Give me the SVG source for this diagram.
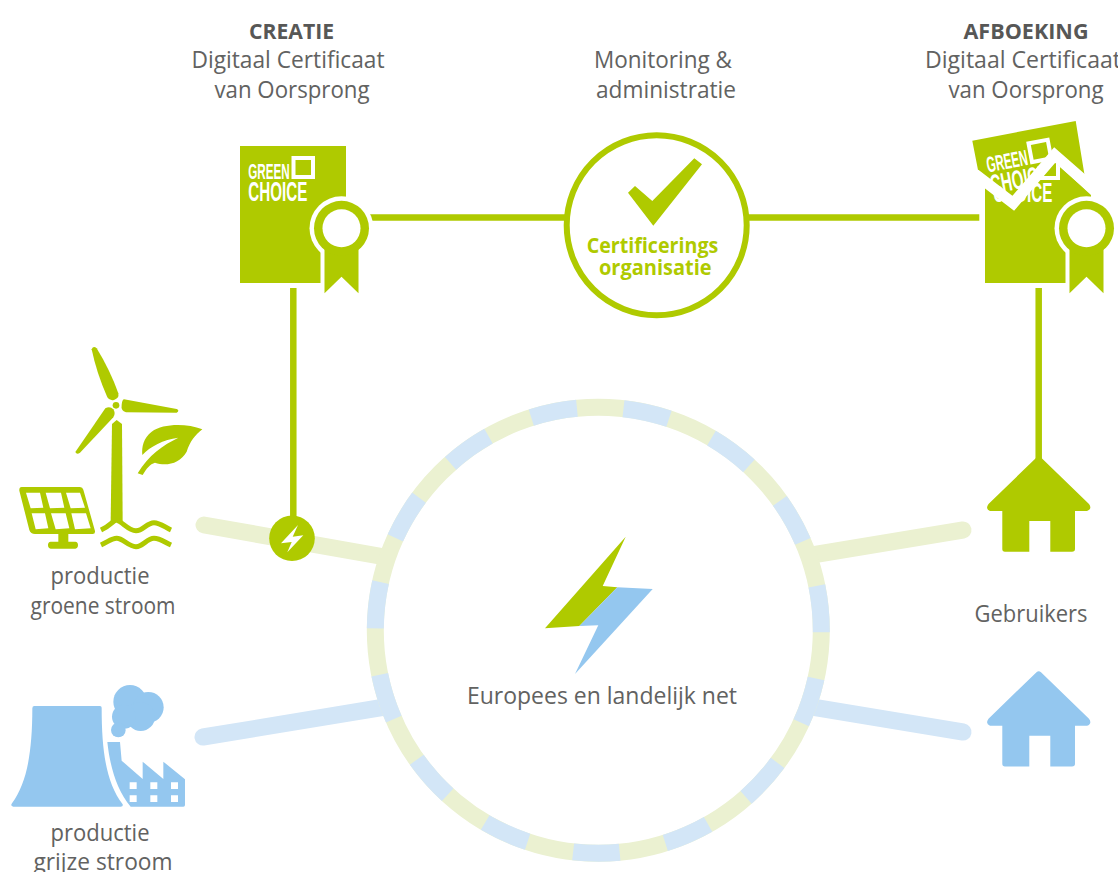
<svg xmlns="http://www.w3.org/2000/svg" width="1118" height="872" viewBox="0 0 1118 872">
<style>
.t{font-family:"Open Sans","Noto Sans","Liberation Sans",sans-serif;font-weight:400;font-size:24px;fill:#626261;text-anchor:middle}
.b{font-weight:700;font-size:21.500px;fill:#575756}
.c{font-family:"Open Sans","Noto Sans","Liberation Sans",sans-serif;font-weight:700;font-size:21px;fill:#afca00;text-anchor:middle}
.lg{font-family:"Liberation Sans Narrow","Liberation Sans",sans-serif;font-weight:700;fill:#fff}
.g{fill:#afca00}.bl{fill:#94c7ef}.w{fill:#fff}
.lgn{fill:none;stroke:#ebf1d1;stroke-width:17;stroke-linecap:round}
.lbl{fill:none;stroke:#d3e6f7;stroke-width:17;stroke-linecap:round}
.ln{fill:none;stroke:#afca00;stroke-width:6.5}
</style>
<defs>
<g id="logo">
<rect x="293.500" y="158" width="19.500" height="19" fill="none" stroke="#fff" stroke-width="4"/>
<text class="lg" x="248.300" y="179" font-size="22" textLength="41.500" lengthAdjust="spacingAndGlyphs">GREEN</text>
<text class="lg" x="248.300" y="201" font-size="27" textLength="59" lengthAdjust="spacingAndGlyphs">CHOICE</text>
</g>
<g id="rosette">
<circle cx="0" cy="0" r="32" class="w"/>
<rect x="-21" y="0" width="42" height="68" class="w"/>
<path class="g" d="M-17 0H17V65L0 48.400L-17 65Z"/>
<circle cx="0" cy="0" r="27.500" class="g"/>
<circle cx="0" cy="0" r="19" class="w"/>
</g>
<path id="house" d="M1036.500 457.500Q1038.700 455.500 1041 457.500L1089 504Q1092.500 509 1087 511H1075V549Q1075 551.700 1072 551.700H1050.300V521H1029.300V551.700H1005Q1002.300 551.700 1002.300 549V511H990Q985 509 988.500 504Z"/>
<clipPath id="lower"><path d="M985 186L1014 210L1054 161L1091 195V283H985Z"/></clipPath>
</defs>

<g id="connectors">
<path class="lgn" d="M204 525L385 557"/>
<path class="lgn" d="M963 530L812 555"/>
<path class="lbl" d="M203 737L385 707"/>
<path class="lbl" d="M963 732L812 707"/>
<path class="ln" d="M293.300 288V540"/>
<path class="ln" d="M340 217.500H570"/>
<path class="ln" d="M745 217.500H979.300"/>
<path class="ln" d="M1038.700 288V462"/>
</g>

<g id="net">
<circle cx="598.300" cy="630.300" r="223" fill="none" stroke="#ebf1d1" stroke-width="17"/>
<circle cx="598.300" cy="630.300" r="223" fill="none" stroke="#d3e6f7" stroke-width="17" pathLength="360" stroke-dasharray="12 12" stroke-dashoffset="-12.500"/>
<path class="g" d="M625.700 536.700L602.700 586L617.300 587.300L579.300 626L545 628.300Z"/>
<path class="bl" d="M617.300 587.300L652.700 589L575 674L598.300 625.300L579.300 626Z"/>
<text class="t" x="602" y="704" textLength="270" lengthAdjust="spacingAndGlyphs">Europees en landelijk net</text>
</g>

<g id="creatie">
<text class="t b" x="291.500" y="38.500" textLength="85" lengthAdjust="spacingAndGlyphs">CREATIE</text>
<text class="t" x="288" y="67.500" textLength="193" lengthAdjust="spacingAndGlyphs">Digitaal Certificaat</text>
<text class="t" x="292" y="97.500" textLength="155" lengthAdjust="spacingAndGlyphs">van Oorsprong</text>
<rect class="g" x="240" y="146" width="106" height="137"/>
<use href="#logo"/>
<use href="#rosette" transform="translate(341.500 228.300)"/>
</g>

<g id="monitoring">
<text class="t" x="663" y="67.500" textLength="138" lengthAdjust="spacingAndGlyphs">Monitoring &amp;</text>
<text class="t" x="666" y="97.500" textLength="140" lengthAdjust="spacingAndGlyphs">administratie</text>
<circle cx="656.700" cy="225.300" r="90" class="w" stroke="#afca00" stroke-width="6"/>
<path class="g" d="M628 192.700L635 186L652.300 201L694.300 158.300L702 164.300L653.300 225.700Z"/>
<text class="c" x="652.500" y="253.300" textLength="131.600" lengthAdjust="spacingAndGlyphs">Certificerings</text>
<text class="c" x="655.300" y="275" textLength="112.700" lengthAdjust="spacingAndGlyphs">organisatie</text>
</g>

<g id="afboeking">
<text class="t b" x="1026" y="38.500" textLength="125" lengthAdjust="spacingAndGlyphs">AFBOEKING</text>
<text class="t" x="1023" y="67.500" textLength="196" lengthAdjust="spacingAndGlyphs">Digitaal Certificaat</text>
<text class="t" x="1026" y="97.500" textLength="155" lengthAdjust="spacingAndGlyphs">van Oorsprong</text>
<path class="g" d="M972.300 140.700L1075.700 121L1085 178L1054 150L1014 200L978 170Z"/>
<g transform="rotate(-10.700 1015 150) translate(736 -12)"><use href="#logo"/></g>
<path class="g" d="M985 186L1014 210L1054 161L1091 195V283H985Z"/>
<g clip-path="url(#lower)"><use href="#logo" transform="translate(745 1)"/></g>
<path d="M975 174L1013.300 203.300L1054.700 155L1098 193" fill="none" stroke="#fff" stroke-width="11"/>
<use href="#rosette" transform="translate(1086.500 228.300)"/>
</g>

<g id="groen">
<g transform="translate(0 340) scale(.33333)">
<path class="g" d="M275 28Q280 15 290 25Q330 90 355 160Q358 175 342 180Q328 183 322 172Q290 100 275 28Z"/>
<path class="g" d="M372 178L530 207Q540 212 530 218L378 217Q362 212 365 195Q366 180 372 178Z"/>
<path class="g" d="M316 205Q330 198 340 208Q348 220 340 232L240 338Q230 345 226 336Z"/>
<circle cx="348" cy="196" r="10" class="g"/>
<path class="g" d="M350 240L366 252L368 543H332L336 252Z"/>
<path d="M303 570C335 555 340 540 350 540C370 548 385 572 408 572C430 572 440 548 462 548C480 548 495 562 513 570" fill="none" stroke="#afca00" stroke-width="15"/>
<path d="M303 615C325 605 335 595 350 595C370 595 385 620 408 620C430 620 440 595 462 595C480 595 495 607 513 615" fill="none" stroke="#afca00" stroke-width="15"/>
<path class="g" d="M607 268C560 250 490 250 455 275C430 295 425 320 427 345C450 320 490 298 535 293C490 315 445 345 413 400L428 405C440 385 450 372 465 368C500 380 540 370 560 335C570 305 585 285 607 268Z"/>
<path class="g" d="M65 441H240Q248 441 250 449L285 573Q286 582 278 582H205V605H226Q234 606 234 615Q234 625 226 626H152Q144 625 144 615Q144 606 152 605H175V582H105Q92 582 88 570L58 452Q57 441 65 441Z"/>
<path class="w" d="M78 458H120L130 503L92 505ZM137 458H183L193 503L150 505ZM198 458H240L255 503L212 505ZM95 520H135L145 565L107 568ZM153 520H197L208 565L167 568ZM214 520H258L272 565L225 568Z"/>
</g>
<text class="t" x="100" y="584" textLength="99" lengthAdjust="spacingAndGlyphs">productie</text>
<text class="t" x="103" y="613.500" textLength="145" lengthAdjust="spacingAndGlyphs">groene stroom</text>
</g>

<g id="grijs">
<g transform="translate(0 670) scale(.33333)">
<path class="bl" d="M103 108H300Q305 108 305 113C305 250 320 340 368 403Q370 410 362 410H40Q30 408 36 400C80 340 97 250 97 115Q97 108 103 108Z"/>
<path class="bl" d="M322 216H360L365 272L428 327V275L490 327V275L555 328V405Q555 410 550 410H392C350 360 330 290 322 216Z"/>
<path class="w" d="M389 337h21v20h-21zM451 337h21v20h-21zM513 337h21v20h-21zM389 376h21v20h-21zM451 376h21v20h-21zM513 376h21v20h-21z"/>
<circle class="bl" cx="390" cy="95" r="50"/>
<circle class="bl" cx="445" cy="112" r="46"/>
<circle class="bl" cx="422" cy="140" r="43"/>
<circle class="bl" cx="372" cy="140" r="36"/>
<circle class="bl" cx="355" cy="180" r="22"/>
</g>
<text class="t" x="100" y="841" textLength="99" lengthAdjust="spacingAndGlyphs">productie</text>
<text class="t" x="103" y="870" textLength="139" lengthAdjust="spacingAndGlyphs">grijze stroom</text>
</g>

<g id="groene-bron">
<circle class="g" cx="292" cy="538.300" r="22.800"/>
<path class="w" d="M298 525L281 543.300L291.700 542L287.300 552.300L303.300 535.300L292.700 536.700Z"/>
</g>

<g id="gebruiker-groen"><use href="#house" class="g"/></g>
<text id="gebruikers" class="t" x="1031" y="622" textLength="113" lengthAdjust="spacingAndGlyphs">Gebruikers</text>
<g id="gebruiker-blauw"><use href="#house" class="bl" transform="translate(0 214.700)"/></g>
</svg>
